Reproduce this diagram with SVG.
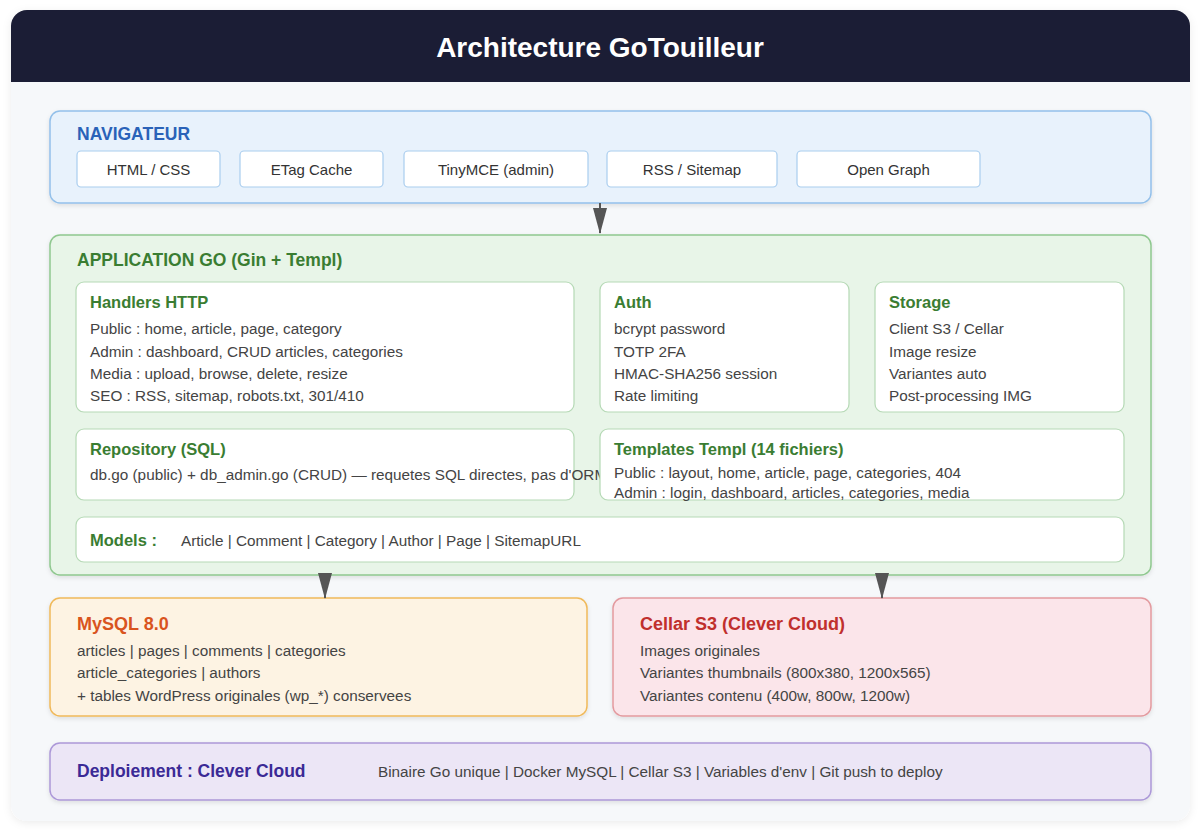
<svg xmlns="http://www.w3.org/2000/svg" width="1200" height="830" viewBox="0 0 1200 830">
<defs>
<filter id="sh" x="-5%" y="-10%" width="110%" height="130%">
<feDropShadow dx="0" dy="2" stdDeviation="2" flood-color="#000" flood-opacity="0.10"/>
</filter>
<filter id="shc" x="-5%" y="-5%" width="110%" height="110%">
<feDropShadow dx="0" dy="2" stdDeviation="4" flood-color="#000" flood-opacity="0.08"/>
</filter>
<marker id="ah" viewBox="0 0 26 14" refX="25" refY="7" markerWidth="26" markerHeight="14" markerUnits="userSpaceOnUse" orient="auto">
<path d="M0,0 L26,7 L0,14 Z" fill="#555"/>
</marker>
<clipPath id="card"><rect x="11" y="10" width="1179" height="811" rx="16"/></clipPath>
</defs>
<style>
text{font-family:"Liberation Sans",Arial,Helvetica,sans-serif;}
.title{font-size:28px;font-weight:bold;fill:#fff;}
.sec{font-size:17.5px;font-weight:bold;}
.big{font-size:18px;}
.sub{font-size:16.5px;font-weight:bold;fill:#3a7d32;}
.body{font-size:15.3px;fill:#444;}
.pill{fill:#fff;stroke:#a9cdee;stroke-width:1.2;}
.pilltxt{font-size:15px;fill:#333;text-anchor:middle;}
.inner{fill:#fff;stroke:#b5d9b5;stroke-width:1.2;}
.conn{stroke:#555;stroke-width:2;fill:none;}
</style>
<rect width="1200" height="830" fill="#ffffff"/>
<g id="card-bg" filter="url(#shc)">
<rect x="11" y="10" width="1179" height="811" rx="16" fill="#f6f8fa"/>
</g>
<g id="header" clip-path="url(#card)">
<rect x="11" y="10" width="1179" height="72" fill="#1b1d35"/>
<text x="600" y="57" class="title" text-anchor="middle">Architecture GoTouilleur</text>
</g>

<g id="navigateur">
<rect x="50" y="111" width="1101" height="92" rx="10" fill="#e8f2fc" stroke="#93c0ea" stroke-width="1.5" filter="url(#sh)"/>
<text x="77" y="140" class="sec" fill="#2a62b8">NAVIGATEUR</text>
<g id="nav-html"><rect x="77" y="151" width="143" height="36" rx="4" class="pill"/><text x="148.5" y="175" class="pilltxt">HTML / CSS</text></g>
<g id="nav-etag"><rect x="240" y="151" width="143" height="36" rx="4" class="pill"/><text x="311.5" y="175" class="pilltxt">ETag Cache</text></g>
<g id="nav-tinymce"><rect x="404" y="151" width="184" height="36" rx="4" class="pill"/><text x="496" y="175" class="pilltxt">TinyMCE (admin)</text></g>
<g id="nav-rss"><rect x="607" y="151" width="170" height="36" rx="4" class="pill"/><text x="692" y="175" class="pilltxt">RSS / Sitemap</text></g>
<g id="nav-og"><rect x="797" y="151" width="183" height="36" rx="4" class="pill"/><text x="888.5" y="175" class="pilltxt">Open Graph</text></g>
</g>

<g id="application">
<rect x="50" y="235" width="1101" height="340" rx="10" fill="#e8f5e8" stroke="#8fc88f" stroke-width="1.5" filter="url(#sh)"/>
<text x="77" y="266" class="sec" fill="#3a7d32">APPLICATION GO (Gin + Templ)</text>
</g>

<g id="handlers">
<rect x="76" y="282" width="498" height="130" rx="8" class="inner"/>
<text x="90" y="308" class="sub">Handlers HTTP</text>
<text x="90" y="334" class="body">Public : home, article, page, category</text>
<text x="90" y="357" class="body">Admin : dashboard, CRUD articles, categories</text>
<text x="90" y="379" class="body">Media : upload, browse, delete, resize</text>
<text x="90" y="401" class="body">SEO : RSS, sitemap, robots.txt, 301/410</text>
</g>

<g id="auth">
<rect x="600" y="282" width="249" height="130" rx="8" class="inner"/>
<text x="614" y="308" class="sub">Auth</text>
<text x="614" y="334" class="body">bcrypt password</text>
<text x="614" y="357" class="body">TOTP 2FA</text>
<text x="614" y="379" class="body">HMAC-SHA256 session</text>
<text x="614" y="401" class="body">Rate limiting</text>
</g>

<g id="storage">
<rect x="875" y="282" width="249" height="130" rx="8" class="inner"/>
<text x="889" y="308" class="sub">Storage</text>
<text x="889" y="334" class="body">Client S3 / Cellar</text>
<text x="889" y="357" class="body">Image resize</text>
<text x="889" y="379" class="body">Variantes auto</text>
<text x="889" y="401" class="body">Post-processing IMG</text>
</g>

<g id="repository">
<rect x="76" y="429" width="498" height="71" rx="8" class="inner"/>
<text x="90" y="455" class="sub">Repository (SQL)</text>
<text x="90" y="480" class="body">db.go (public) + db_admin.go (CRUD) — requetes SQL directes, pas d'ORM</text>
</g>

<g id="templates">
<rect x="600" y="429" width="524" height="71" rx="8" class="inner"/>
<text x="614" y="455" class="sub">Templates Templ (14 fichiers)</text>
<text x="614" y="478" class="body">Public : layout, home, article, page, categories, 404</text>
<text x="614" y="498" class="body">Admin : login, dashboard, articles, categories, media</text>
</g>

<g id="models">
<rect x="76" y="517" width="1048" height="45" rx="8" class="inner"/>
<text x="90" y="546" class="sub">Models :</text>
<text x="181" y="546" class="body">Article | Comment | Category | Author | Page | SitemapURL</text>
</g>

<g id="mysql">
<rect x="50" y="598" width="537" height="118" rx="10" fill="#fdf3e3" stroke="#f0b95a" stroke-width="1.5" filter="url(#sh)"/>
<text x="77" y="630" class="sec big" fill="#d9541e">MySQL 8.0</text>
<text x="77" y="656" class="body">articles | pages | comments | categories</text>
<text x="77" y="678" class="body">article_categories | authors</text>
<text x="77" y="701" class="body">+ tables WordPress originales (wp_*) conservees</text>
</g>

<g id="cellar">
<rect x="613" y="598" width="538" height="118" rx="10" fill="#fbe5ea" stroke="#e39a9f" stroke-width="1.5" filter="url(#sh)"/>
<text x="640" y="630" class="sec big" fill="#c0302d">Cellar S3 (Clever Cloud)</text>
<text x="640" y="656" class="body">Images originales</text>
<text x="640" y="678" class="body">Variantes thumbnails (800x380, 1200x565)</text>
<text x="640" y="701" class="body">Variantes contenu (400w, 800w, 1200w)</text>
</g>

<g id="deploiement">
<rect x="50" y="743" width="1101" height="57" rx="10" fill="#ece6f6" stroke="#ac98d8" stroke-width="1.5" filter="url(#sh)"/>
<text x="77" y="777" class="sec" fill="#3b2a96">Deploiement : Clever Cloud</text>
<text x="378" y="777" class="body">Binaire Go unique | Docker MySQL | Cellar S3 | Variables d'env | Git push to deploy</text>
</g>

<g id="connectors">
<line x1="600" y1="203" x2="600" y2="233" class="conn" marker-end="url(#ah)"/>
<line x1="325" y1="575" x2="325" y2="598" class="conn" marker-end="url(#ah)"/>
<line x1="882" y1="575" x2="882" y2="598" class="conn" marker-end="url(#ah)"/>
</g>
</svg>
